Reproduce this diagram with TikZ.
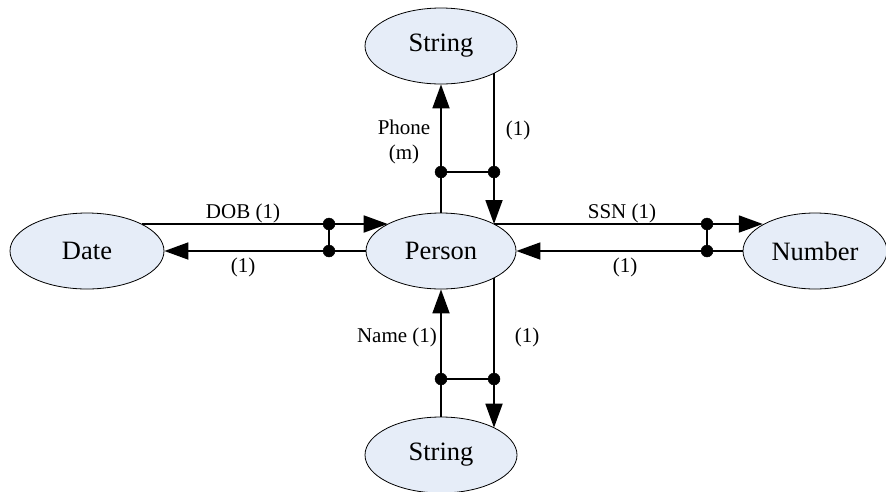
\documentclass[tikz,border=0pt]{standalone}
\usepackage{fontspec}
\setmainfont{Liberation Serif}
\usetikzlibrary{arrows.meta, shapes.geometric}
\definecolor{typefill}{RGB}{230,237,248}
\tikzset{
    entity/.style={ellipse, draw, line width=0.8pt, fill=typefill, inner sep=0pt,
        minimum width=152pt, minimum height=76pt, font=\fontsize{26.5}{30}\selectfont},
    link/.style={line width=1.8pt, -{Triangle[length=24pt, width=17pt]}},
    rail/.style={line width=1.8pt},
    tag/.style={font=\fontsize{21}{25}\selectfont, align=center, inner sep=0pt}
}
\begin{document}
\begin{tikzpicture}[x=1pt, y=-1pt]
    \useasboundingbox (0, 0) rectangle (886, 491);

    \node[entity, minimum width=150pt] (person) at (441, 251) {Person};
    \node[entity] (strTop) at (441,  46) {String};
    \node[entity] (strBot) at (441, 455) {String};
    \node[entity, minimum width=154pt] (date)   at ( 87, 251) {Date};
    \node[entity, minimum width=144pt] (number) at (815, 251) {Number};

    \coordinate (jT1) at (441, 172);
    \coordinate (jT2) at (494, 172);
    \coordinate (jB1) at (441, 379);
    \coordinate (jB2) at (494, 379);
    \coordinate (jL1) at (329, 224);
    \coordinate (jL2) at (329, 251);
    \coordinate (jR1) at (707, 224);
    \coordinate (jR2) at (707, 251);

    % top: phone
    \draw[link] (person.north) -- (jT1) -- (strTop.south);
    \draw[link] (strTop.-27 -| jT2) -- (jT2) -- (jR1 -| jT2);
    \draw[rail] (jT1) -- (jT2);

    % bottom: name
    \draw[link] (strBot.north) -- (jB1) -- (person.south);
    \draw[link] (person.-27 -| jB2) -- (jB2) -- (strBot.27 -| jB2);
    \draw[rail] (jB1) -- (jB2);

    % left: dob
    \draw[link] (date.26.5 |- jL1) -- (jL1) -- (person.153 |- jL1);
    \draw[link] (person.west) -- (jL2) -- (date.east);
    \draw[rail] (jL1) -- (jL2);

    % right: ssn
    \draw[link] (jT2 |- jR1) -- (jR1) -- (number.153.5 |- jR1);
    \draw[link] (number.west) -- (jR2) -- (person.east);
    \draw[rail] (jR1) -- (jR2);

    \foreach \j in {jT1, jT2, jB1, jB2, jL1, jL2, jR1, jR2}
        \filldraw (\j) circle (6pt);

    \node[tag] (phoneTag) at (404, 142) {Phone\\(m)};
    \node[tag] (topOne)   at (518, 130) {(1)};
    \node[tag] (dobTag)   at (243, 213) {DOB (1)};
    \node[tag] (dateOne)  at (243, 267) {(1)};
    \node[tag] (ssnTag)   at (622, 213) {SSN (1)};
    \node[tag] (numOne)   at (625, 267) {(1)};
    \node[tag] (nameTag)  at (397, 337) {Name (1)};
    \node[tag] (botOne)   at (527, 337) {(1)};

\end{tikzpicture}
\end{document}
